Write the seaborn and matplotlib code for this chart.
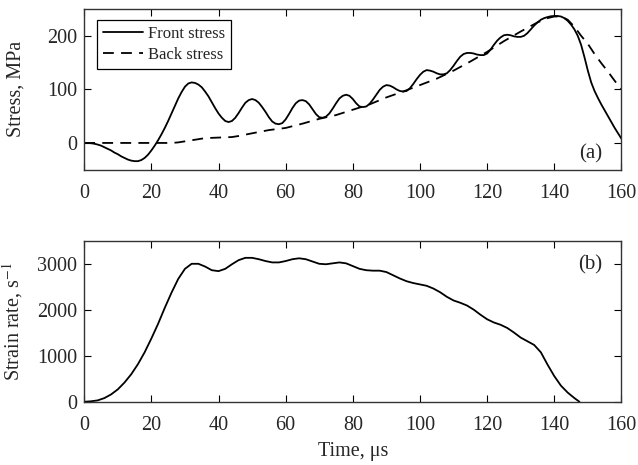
import numpy as np
import pandas as pd
import matplotlib
matplotlib.use("Agg")
import matplotlib.pyplot as plt
import seaborn as sns

# values
t_front = list(range(0, 161))
front_stress = [0, 0, -0.5, -1.5, -3, -5, -8, -11, -14, -18, -21, -25, -28, -31, -33, -34,
                -34, -32, -28, -22, -14, -5, 5, 16, 28, 41, 55, 69, 83, 95, 105, 111,
                113, 112, 109, 104, 96, 87, 76, 65, 55, 47, 41, 39,
                41, 47, 56, 66, 75, 80, 82,
                80, 75, 67, 58, 48, 40, 36, 35,
                37, 44, 54, 65, 74, 79, 80,
                78, 72, 63, 54, 48, 47,
                49, 55, 64, 74, 83, 88, 90,
                88, 82, 74, 68, 67,
                68, 73, 81, 90, 99, 105, 108,
                107, 104, 100, 97, 96,
                97, 102, 110, 119, 127, 133, 136,
                135, 133, 130, 128, 128,
                130, 136, 144, 153, 161, 166, 168,
                168, 167, 165, 164, 164,
                167, 174, 183, 191, 197, 201, 202,
                201, 199, 198, 198,
                200, 205, 212, 219, 225, 230, 233, 235, 236.5, 237,
                237, 236, 233, 228, 221, 212, 200, 183, 160, 135,
                113, 97, 84, 72, 61, 50, 39, 28, 18, 8]

t_back = [0, 10, 20, 26, 28, 30, 32, 34, 36, 40, 44, 46, 50, 55, 60, 65, 70, 75, 80, 85,
          90, 95, 100, 105, 110, 115, 120, 125, 130, 135, 138, 140, 142, 144, 146, 148, 150,
          152, 154, 156, 158, 160]
back_stress = [0, 0, 0, 0, 1, 3, 5, 7, 9, 10, 11, 13, 18, 24, 28, 36, 45, 52, 62, 72,
               85, 96, 108, 120, 135, 152, 170, 190, 208, 225, 233, 236, 236, 230, 217, 200, 185,
               166, 149, 133, 116, 100]

t_rate = [0, 2, 4, 6, 8, 10, 12, 14, 16, 18, 20, 22, 24, 26, 28, 30, 32, 34, 36, 38,
          40, 42, 44, 46, 48, 50, 52, 54, 56, 58, 60, 62, 64, 66, 68, 70, 72, 74, 76, 78,
          80, 82, 84, 86, 88, 90, 92, 94, 96, 98, 100, 102, 104, 106, 108, 110, 112, 114,
          116, 118, 120, 122, 124, 126, 128, 130, 132, 134, 136, 138, 140, 142, 144, 146, 147.5]
strain_rate = [0, 10, 30, 80, 160, 270, 420, 600, 820, 1080, 1380, 1700, 2050, 2380, 2680, 2900,
               3010, 3010, 2950, 2870, 2850, 2900, 3000, 3090, 3140, 3140, 3110, 3070, 3040, 3040,
               3070, 3110, 3130, 3110, 3060, 3010, 3000, 3020, 3040, 3020, 2960, 2900, 2870, 2860,
               2860, 2830, 2760, 2690, 2630, 2590, 2560, 2530, 2470, 2390, 2290, 2210, 2160, 2100,
               2010, 1900, 1800, 1730, 1680, 1610, 1510, 1400, 1320, 1240, 1080, 810, 560, 350,
               200, 80, 0]

x_ticks = [0, 20, 40, 60, 80, 100, 120, 140, 160]


def main():
    sns.set_theme(style="ticks")
    plt.rcParams['font.family'] = ['Liberation Serif', 'DejaVu Serif']
    plt.rcParams['mathtext.fontset'] = 'stix'

    df_front = pd.DataFrame({"t": t_front, "v": front_stress})
    df_back = pd.DataFrame({"t": t_back, "v": back_stress})
    df_rate = pd.DataFrame({"t": t_rate, "v": strain_rate})

    fig = plt.figure(figsize=(6.38, 4.65), dpi=100)
    ax1 = fig.add_axes([0.132, 0.635, 0.842, 0.3456])
    ax2 = fig.add_axes([0.132, 0.136, 0.842, 0.345])

    # (a) stresses
    sns.lineplot(data=df_front, x="t", y="v", ax=ax1, color="black", lw=1.3,
                 label="Front stress")
    sns.lineplot(data=df_back, x="t", y="v", ax=ax1, color="black", lw=1.3,
                 label="Back stress")
    ax1.lines[-1].set_dashes((6, 4))
    ax1.set_xlim(0, 160)
    ax1.set_ylim(-50, 250)
    ax1.set_xticks(x_ticks)
    ax1.set_yticks([0, 100, 200])
    ax1.set_xlabel("")
    ax1.set_ylabel("Stress, MPa", fontsize=14.5)
    ax1.text(0.965, 0.04, "(a)", transform=ax1.transAxes, ha="right", va="bottom",
             fontsize=15)
    leg = ax1.legend(loc="upper left", fontsize=12, frameon=True, fancybox=False,
                     edgecolor="black", framealpha=1, handlelength=2.4,
                     borderpad=0.35, labelspacing=0.3, handletextpad=0.3,
                     borderaxespad=0, bbox_to_anchor=(0.024, 0.932))
    leg.get_frame().set_linewidth(0.9)

    # (b) strain rate
    sns.lineplot(data=df_rate, x="t", y="v", ax=ax2, color="black", lw=1.3)
    ax2.set_xlim(0, 160)
    ax2.set_ylim(0, 3500)
    ax2.set_xticks(x_ticks)
    ax2.set_yticks([0, 1000, 2000, 3000])
    ax2.set_xlabel("Time, μs", fontsize=14.5, labelpad=5)
    ax2.set_ylabel("Strain rate, s$^{-1}$", fontsize=14.5)
    ax2.text(0.965, 0.915, "(b)", transform=ax2.transAxes, ha="right", va="top",
             fontsize=15)

    for ax in (ax1, ax2):
        ax.tick_params(axis="both", which="both", direction="in", top=True, right=True,
                       labelsize=14.5, length=5, width=0.8, color="black")
        ax.tick_params(axis="x", pad=10.5)
        ax.tick_params(axis="y", pad=5)
        ax.yaxis.set_label_coords(-0.11, 0.5)
        for s in ax.spines.values():
            s.set_linewidth(1.0)
            s.set_color("#333333")

    fig.savefig("out.png", dpi=100)


if __name__ == "__main__":
    main()
